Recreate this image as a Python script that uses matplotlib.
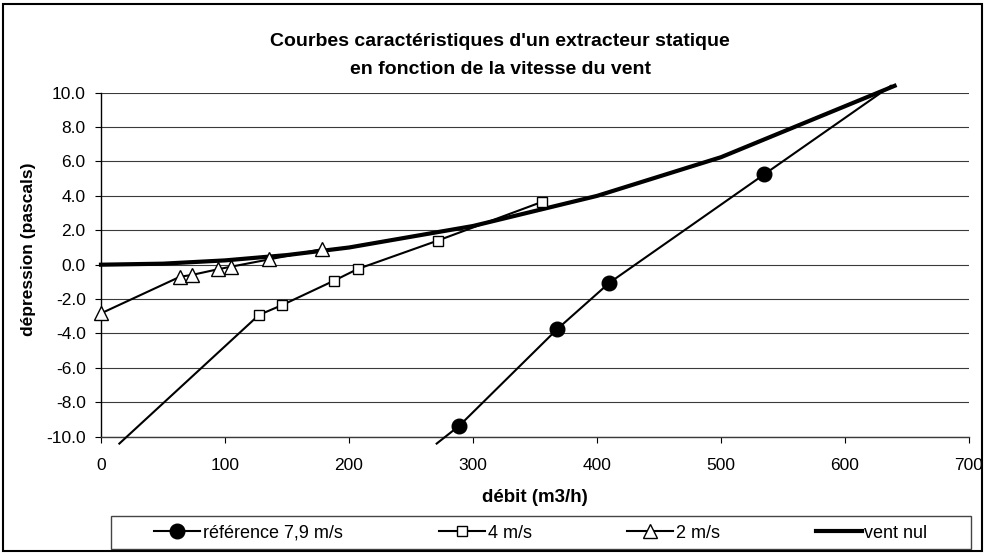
import numpy as np
import matplotlib
matplotlib.use("Agg")
from matplotlib import pyplot as plt
from matplotlib.patches import Rectangle
from matplotlib.ticker import FormatStrFormatter

plt.rcParams['font.family'] = ['Liberation Sans', 'DejaVu Sans']

# Reference wind 7.9 m/s (end points lie just outside the axes)
ref_debit = [270.7, 289, 368, 410, 535, 637]
ref_depression = [-10.4, -9.36, -3.74, -1.05, 5.26, 10.4]

# Wind 4 m/s
v4_debit = [14.8, 127.4, 145.7, 187.9, 207, 271.5, 355.9]
v4_depression = [-10.4, -2.92, -2.36, -0.93, -0.25, 1.40, 3.66]

# Wind 2 m/s
v2_debit = [0, 63.7, 73, 94, 104.6, 135.7, 178]
v2_depression = [-2.83, -0.70, -0.60, -0.27, -0.12, 0.31, 0.90]

# No wind
v0_debit = [0, 50, 100, 150, 200, 300, 400, 500, 640]
v0_depression = [0, 0.06, 0.25, 0.56, 1.0, 2.25, 4.0, 6.25, 10.4]

W, H = 988, 553
fig = plt.figure(figsize=(W / 100, H / 100), dpi=100)

# plot area in pixels: x 101..969, y 92.7..436.7
ax = fig.add_axes([101 / W, 1 - 436.7 / H, 868 / W, 344 / H])

ax.plot(ref_debit, ref_depression, color='black', lw=1.5, marker='o',
        markersize=10.5, markerfacecolor='black', markeredgecolor='black',
        markevery=[1, 2, 3, 4], clip_on=False, zorder=4,
        label='référence 7,9 m/s')
ax.plot(v4_debit, v4_depression, color='black', lw=1.5, marker='s',
        markersize=7, markerfacecolor='white', markeredgecolor='black',
        markeredgewidth=1.0, markevery=list(range(1, len(v4_debit))),
        clip_on=False, zorder=4, label='4 m/s')
ax.plot(v2_debit, v2_depression, color='black', lw=1.5, marker='^',
        markersize=10, markerfacecolor='white', markeredgecolor='black',
        markeredgewidth=1.0, clip_on=False, zorder=5, label='2 m/s')
ax.plot(v0_debit, v0_depression, color='black', lw=3, clip_on=False,
        zorder=3, label='vent nul')

ax.set_xlim(0, 700)
ax.set_ylim(-10, 10)
ax.set_xticks(np.arange(0, 701, 100))
ax.set_yticks(np.arange(-10, 11, 2))
ax.yaxis.set_major_formatter(FormatStrFormatter('%.1f'))
ax.yaxis.grid(True, color='#3a3a3a', lw=0.8)
ax.set_axisbelow(True)

for side in ['top', 'right']:
    ax.spines[side].set_visible(False)
ax.spines['left'].set_linewidth(1.0)
ax.spines['bottom'].set_linewidth(1.0)
ax.spines['bottom'].set_color('#3a3a3a')

ax.tick_params(axis='y', direction='out', length=4.5, width=0.8, pad=6.5,
               labelsize=12.5)
ax.tick_params(axis='x', direction='out', length=4, width=0.8, pad=11,
               labelsize=12.5)

fig.text(500 / W, 1 - 42 / H, "Courbes caractéristiques d'un extracteur statique",
         ha='center', va='center', fontsize=14, fontweight='bold')
fig.text(500 / W, 1 - 69 / H, "en fonction de la vitesse du vent",
         ha='center', va='center', fontsize=14, fontweight='bold')
fig.text(535 / W, 1 - 497 / H, "débit (m3/h)", ha='center', va='center',
         fontsize=13.5, fontweight='bold')
fig.text(28 / W, 1 - 249 / H, "dépression (pascals)", ha='center',
         va='center', rotation=90, fontsize=12.5, fontweight='bold')

# legend frame and outer chart frame
fig.patches.append(Rectangle((111 / W, 1 - 549 / H), 860 / W, 33 / H,
                             transform=fig.transFigure, fill=False,
                             edgecolor='#444444', lw=1.0))
fig.patches.append(Rectangle((3 / W, 1 - 551 / H), 979 / W, 547 / H,
                             transform=fig.transFigure, fill=False,
                             edgecolor='black', lw=1.5))

fig.legend(loc='center', bbox_to_anchor=(541 / W, 1 - 533 / H), ncol=4,
           frameon=False, fontsize=13, handlelength=2.55, handletextpad=0.15,
           columnspacing=5.3, borderpad=0)

fig.savefig("out.png", dpi=100)
